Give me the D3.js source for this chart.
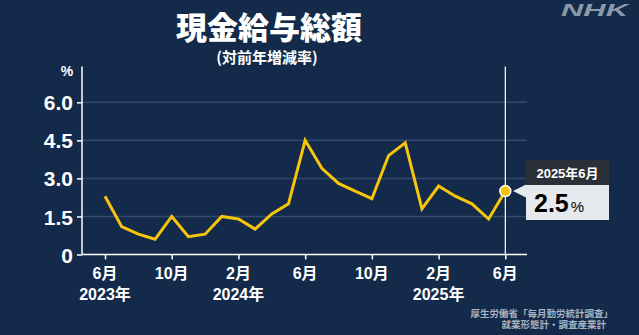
<!DOCTYPE html>
<html><head><meta charset="utf-8">
<script src="https://cdn.jsdelivr.net/npm/d3@7"></script>
<style>html,body{margin:0;padding:0;background:#132a4a;}svg{display:block;}</style>
</head><body>
<script>
const months = ["2023-06","2023-07","2023-08","2023-09","2023-10","2023-11","2023-12","2024-01","2024-02","2024-03","2024-04","2024-05","2024-06","2024-07","2024-08","2024-09","2024-10","2024-11","2024-12","2025-01","2025-02","2025-03","2025-04","2025-05","2025-06"];
const values = [2.3,1.1,0.8,0.6,1.5,0.7,0.8,1.5,1.4,1.0,1.6,2.0,4.5,3.4,2.8,2.5,2.2,3.9,4.4,1.8,2.7,2.3,2.0,1.4,2.5];
const yTicks = [0,1.5,3.0,4.5,6.0];
const xTickIdx = [0,4,8,12,16,20,24];
const xTickMonth = ["6月","10月","2月","6月","10月","2月","6月"];
const xTickYear = ["2023年","","2024年","","","2025年",""];
const title = "現金給与総額";
const subtitle = "(対前年増減率)";
const sourceLines = ["厚生労働省「毎月勤労統計調査」","就業形態計・調査産業計"];
const tipLabel = "2025年6月";
const tipValue = "2.5";

const W=639,H=335;
const font = "'Noto Sans CJK JP', 'Liberation Sans', sans-serif";
const numFont = "'Liberation Sans', Arial, sans-serif";
const mixFont = "'Liberation Sans', 'Noto Sans CJK JP', sans-serif";
const svg = d3.select("body").append("svg").attr("width",W).attr("height",H);
svg.append("rect").attr("width",W).attr("height",H).attr("fill","#132a4a");

const x = d3.scaleLinear().domain([-1.38,25.3]).range([82,527]);
const y = d3.scaleLinear().domain([0,6]).range([254.5,102.3]);

// gridlines
svg.append("g").selectAll("line").data(yTicks.filter(d=>d>0)).join("line")
  .attr("x1",82).attr("x2",527).attr("y1",d=>y(d)).attr("y2",d=>y(d))
  .attr("stroke","#34496b").attr("stroke-width",1.5);

// y axis
const ya = svg.append("g").attr("transform","translate(82,0)")
  .call(d3.axisLeft(y).tickValues(yTicks).tickSize(5).tickPadding(4).tickFormat(d=>d===0?"0":d3.format(".1f")(d)));
ya.select(".domain").attr("d","M0,66.5V254.5").attr("stroke","#ffffff").attr("stroke-width",1.5);
ya.selectAll(".tick line").attr("stroke","#ffffff").attr("stroke-width",1.5);
ya.selectAll(".tick text").attr("fill","#ffffff").attr("font-family",numFont).attr("font-weight","bold").attr("font-size",21).attr("dy","0.36em");

// x axis
const xa = svg.append("g").attr("transform","translate(0,254.5)")
  .call(d3.axisBottom(x).tickValues(xTickIdx).tickSize(5).tickFormat(""));
xa.select(".domain").attr("d","M82,0H527").attr("stroke","#ffffff").attr("stroke-width",1.5);
xa.selectAll(".tick line").attr("stroke","#ffffff").attr("stroke-width",1.5);
const xl = svg.append("g");
xl.selectAll("text.m").data(xTickIdx).join("text").attr("class","m")
  .attr("x",d=>x(d)).attr("y",279).attr("text-anchor","middle")
  .attr("fill","#fff").attr("font-family",mixFont).attr("font-weight","bold").attr("font-size",16)
  .text((d,i)=>xTickMonth[i]);
xl.selectAll("text.yr").data(xTickIdx.filter((d,i)=>xTickYear[i])).join("text").attr("class","yr")
  .attr("x",d=>x(d)).attr("y",300).attr("text-anchor","middle")
  .attr("fill","#fff").attr("font-family",mixFont).attr("font-weight","bold").attr("font-size",16)
  .text(d=>xTickYear[xTickIdx.indexOf(d)]);

// % label
svg.append("text").attr("x",67).attr("y",76).attr("text-anchor","middle").attr("fill","#fff")
  .attr("font-family",numFont).attr("font-weight","bold").attr("font-size",14).text("%");

// vertical marker line
svg.append("line").attr("x1",x(24)).attr("x2",x(24)).attr("y1",66.5).attr("y2",254.5)
  .attr("stroke","#ffffff").attr("stroke-width",1.2);

// data line
const line = d3.line().x((d,i)=>x(i)).y(d=>y(d));
svg.append("path").datum(values).attr("d",line).attr("fill","none")
  .attr("stroke","#f5c60a").attr("stroke-width",3).attr("stroke-linejoin","miter");

// highlight dot
svg.append("circle").attr("cx",x(24)).attr("cy",y(values[24])).attr("r",5.5)
  .attr("fill","#f5c60a").attr("stroke","#ffffff").attr("stroke-width",1.5);

// tooltip
const ty = y(values[24]);
const bx = 526, bw = 83;
svg.append("path").attr("d",`M513,${ty}L527,${ty-7}L527,${ty+7}Z`).attr("fill","#e6e9ee");
svg.append("rect").attr("x",bx).attr("y",160).attr("width",bw).attr("height",26).attr("fill","#2b3038");
svg.append("rect").attr("x",bx).attr("y",185).attr("width",bw).attr("height",35).attr("fill","#e6e9ee");
svg.append("text").attr("x",bx+bw/2).attr("y",178).attr("text-anchor","middle").attr("fill","#fff")
  .attr("font-family",mixFont).attr("font-weight","bold").attr("font-size",13).text(tipLabel);
const tv = svg.append("text").attr("x",bx+8).attr("y",212).attr("fill","#000")
  .attr("font-family",numFont).attr("font-weight","bold");
tv.append("tspan").attr("font-size",25).text(tipValue);
tv.append("tspan").attr("font-size",15).attr("font-weight","normal").attr("dx",2).text("%");

// titles
svg.append("text").attr("x",269).attr("y",39).attr("text-anchor","middle").attr("fill","#fff")
  .attr("font-family",font).attr("font-weight","900").attr("font-size",31).text(title);
svg.append("text").attr("x",267).attr("y",63).attr("text-anchor","middle").attr("fill","#fff")
  .attr("font-family",font).attr("font-weight","bold").attr("font-size",15).text(subtitle);

// NHK logo
svg.append("text").attr("x",561).attr("y",16).attr("fill","#8c99ab")
  .attr("font-family",numFont).attr("font-weight","bold").attr("font-style","italic").attr("font-size",17)
  .attr("textLength",67).attr("lengthAdjust","spacingAndGlyphs").text("NHK");

// source
svg.append("text").attr("x",613).attr("y",317).attr("text-anchor","end").attr("fill","#a9b3c1")
  .attr("font-family",mixFont).attr("font-weight","bold").attr("font-size",9.5).text(sourceLines[0]);
svg.append("text").attr("x",606).attr("y",328).attr("text-anchor","end").attr("fill","#a9b3c1")
  .attr("font-family",mixFont).attr("font-weight","bold").attr("font-size",9.5).text(sourceLines[1]);
</script>
</body></html>
